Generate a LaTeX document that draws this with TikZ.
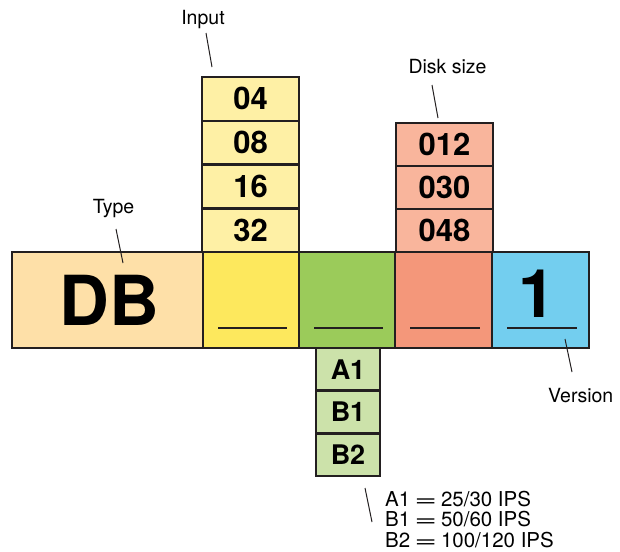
\documentclass[tikz,border=0pt]{standalone}
\usepackage{fontspec}
\setmainfont{TeX Gyre Heros}

\definecolor{outline}{RGB}{35,31,32}
\definecolor{typefill}{RGB}{254,224,168}
\definecolor{inpfill}{RGB}{253,232,93}
\definecolor{spdfill}{RGB}{155,203,90}
\definecolor{dskfill}{RGB}{244,151,122}
\definecolor{verfill}{RGB}{115,206,239}
\definecolor{inpcell}{RGB}{254,240,165}
\definecolor{dskcell}{RGB}{249,181,156}
\definecolor{spdcell}{RGB}{204,226,170}

\newcommand{\wideeq}{\hspace{4pt}\scalebox{1.9}[1]{=}\hspace{4pt}}

\tikzset{
    box/.style={draw=outline, line width=2.5pt, inner sep=0pt, outer sep=0pt, minimum height=96pt},
    cell/.style={draw=outline, line width=2.5pt, inner sep=0pt, outer sep=0pt, font=\fontsize{31}{31}\selectfont\bfseries},
    uline/.style={draw=outline, line width=2.2pt},
    leader/.style={draw=outline, line width=1pt},
    lbl/.style={inner sep=0pt, font=\fontsize{19.5}{20}\selectfont},
    key/.style={inner sep=0pt, anchor=base west, font=\fontsize{20.5}{21}\selectfont}
}

\begin{document}
\begin{tikzpicture}[x=1pt,y=-1pt]
        \useasboundingbox (0,0) rectangle (620,551);

        % columns of options
        \foreach \v [count=\i] in {04,08,16,32}
            \node[cell, fill=inpcell, minimum width=97pt, minimum height=43.75pt] (in\i) at (250.5,{77+43.75*\i-21.875}) {\v};
        \foreach \v [count=\i] in {012,030,048}
            \node[cell, fill=dskcell, minimum width=97pt, minimum height=43pt] (dsk\i) at (444.5,{123+43*\i-21.5}) {\v};
        \foreach \v [count=\i] in {A1,B1,B2}
            \node[cell, fill=spdcell, minimum width=64pt, minimum height=42.7pt, font=\fontsize{27}{27}\selectfont\bfseries] (spd\i) at (348,{348+42.7*\i-21.35}) {\v};

        % main row
        \node[box, fill=typefill, minimum width=191pt] (type) at (107.5,300) {};
        \node[box, fill=inpfill, minimum width=96pt] (inp) at (251,300) {};
        \node[box, fill=spdfill, minimum width=96pt] (spd) at (347,300) {};
        \node[box, fill=dskfill, minimum width=97pt] (dsk) at (443.5,300) {};
        \node[box, fill=verfill, minimum width=97pt] (ver) at (540.5,300) {};

        \node[font=\fontsize{69}{69}\selectfont\bfseries, inner sep=0pt] (dbtxt) at (109,300) {DB};
        \node[font=\fontsize{67}{67}\selectfont\bfseries, inner sep=0pt] (vertxt) at (537,294) {1};

        \foreach \n in {inp,spd,dsk,ver}
            \draw[uline] ([shift={(15,-20)}]\n.south west) -- ([shift={(-12.5,-20)}]\n.south east);

        % labels
        \node[lbl, anchor=base] (inlbl) at (203,25) {Input};
        \node[lbl, anchor=base] (dsklbl) at (447.5,74) {Disk size};
        \node[lbl, anchor=base] (typelbl) at (113.5,213) {Type};
        \node[lbl, anchor=base west] (verlbl) at (548,402) {Version};
        \node[key] (spdlbl1) at (385,506) {A1\wideeq 25/30 IPS};
        \node[key] (spdlbl2) at (385,526.5) {B1\wideeq 50/60 IPS};
        \node[key] (spdlbl3) at (385,547) {B2\wideeq 100/120 IPS};

        \coordinate (in a) at (206,33);   \coordinate (in b) at (212,67);
        \coordinate (dsk a) at (432,85);  \coordinate (dsk b) at (438,118);
        \coordinate (type a) at (116,229); \coordinate (type b) at (123,263);
        \coordinate (ver a) at (565,339); \coordinate (ver b) at (572,372);
        \coordinate (spd a) at (365,488); \coordinate (spd b) at (372,522);
        \foreach \n in {in,dsk,type,ver,spd}
            \draw[leader] (\n\space a) -- (\n\space b);
    \end{tikzpicture}
\end{document}
